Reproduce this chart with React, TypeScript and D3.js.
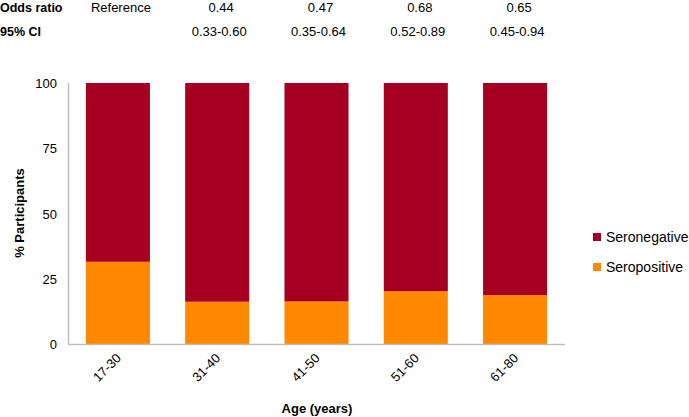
import React from "react";
import * as d3 from "d3";

const categories = ["17-30", "31-40", "41-50", "51-60", "61-80"];
const seropositive = [31.5, 16.2, 16.3, 20.2, 18.7];
const seronegative = seropositive.map((v) => 100 - v);
const oddsRatio = ["Reference", "0.44", "0.47", "0.68", "0.65"];
const ci = ["", "0.33-0.60", "0.35-0.64", "0.52-0.89", "0.45-0.94"];
const yTicks = [0, 25, 50, 75, 100];
const seriesNames = ["Seronegative", "Seropositive"];
const colors = { Seronegative: "#A50021", Seropositive: "#FF8800" };

const W = 689;
const H = 417;
const FONT = "'Liberation Sans', Arial, sans-serif";

export default function App() {
  const x = d3.scaleBand().domain(categories).range([68, 565]).paddingInner(0.355).paddingOuter(0.18);
  const y = d3.scaleLinear().domain([0, 100]).range([344, 83]);
  const stack = d3.stack<any>().keys(["Seropositive", "Seronegative"]);
  const rows = categories.map((c, i) => ({ cat: c, Seropositive: seropositive[i], Seronegative: seronegative[i] }));
  const layers = stack(rows);
  const cx = (c: string) => (x(c) as number) + x.bandwidth() / 2;

  return (
    <svg width={W} height={H} style={{ position: "absolute", left: 0, top: 0 }} fontFamily={FONT}>
      <rect width={W} height={H} fill="#fff" />
      {/* top table */}
      <text x={0} y={12} fontSize={12.5} fontWeight="bold" fill="#000">Odds ratio</text>
      <text x={0} y={36} fontSize={12.5} fontWeight="bold" fill="#000">95% CI</text>
      {categories.map((c, i) => (
        <g key={"t" + c}>
          <text x={i === 0 ? cx(c) + 3 : cx(c) + 4} y={12} fontSize={13} textAnchor="middle" fill="#000">{oddsRatio[i]}</text>
          {ci[i] && <text x={cx(c) + 2} y={36} fontSize={13} textAnchor="middle" fill="#000">{ci[i]}</text>}
        </g>
      ))}
      {/* bars */}
      {layers.map((layer) => (
        <g key={layer.key} fill={(colors as any)[layer.key]}>
          {layer.map((d, i) => (
            <rect key={i} x={x(categories[i])} width={x.bandwidth()} y={y(d[1])} height={y(d[0]) - y(d[1])} />
          ))}
        </g>
      ))}
      {/* axes */}
      <line x1={68.5} x2={68.5} y1={83} y2={344.5} stroke="#BFBFBF" strokeWidth={1.5} />
      <line x1={68} x2={565} y1={344.5} y2={344.5} stroke="#BFBFBF" strokeWidth={1.5} />
      {yTicks.map((t) => (
        <text key={t} x={57} y={y(t) + 5} fontSize={13} textAnchor="end" fill="#000">{t}</text>
      ))}
      {categories.map((c) => (
        <text key={c} transform={`translate(${cx(c) + 4},${359}) rotate(-45)`} fontSize={13} textAnchor="end" fill="#000">{c}</text>
      ))}
      <text transform={`translate(24,213) rotate(-90)`} fontSize={13} fontWeight="bold" textAnchor="middle" fill="#000">% Participants</text>
      <text x={317} y={413} fontSize={13} fontWeight="bold" textAnchor="middle" fill="#000">Age (years)</text>
      {/* legend */}
      {seriesNames.map((s, i) => (
        <g key={s}>
          <rect x={593} y={233 + i * 30} width={8} height={8} fill={(colors as any)[s]} />
          <text x={606} y={242 + i * 30} fontSize={14} fill="#000">{s}</text>
        </g>
      ))}
    </svg>
  );
}
